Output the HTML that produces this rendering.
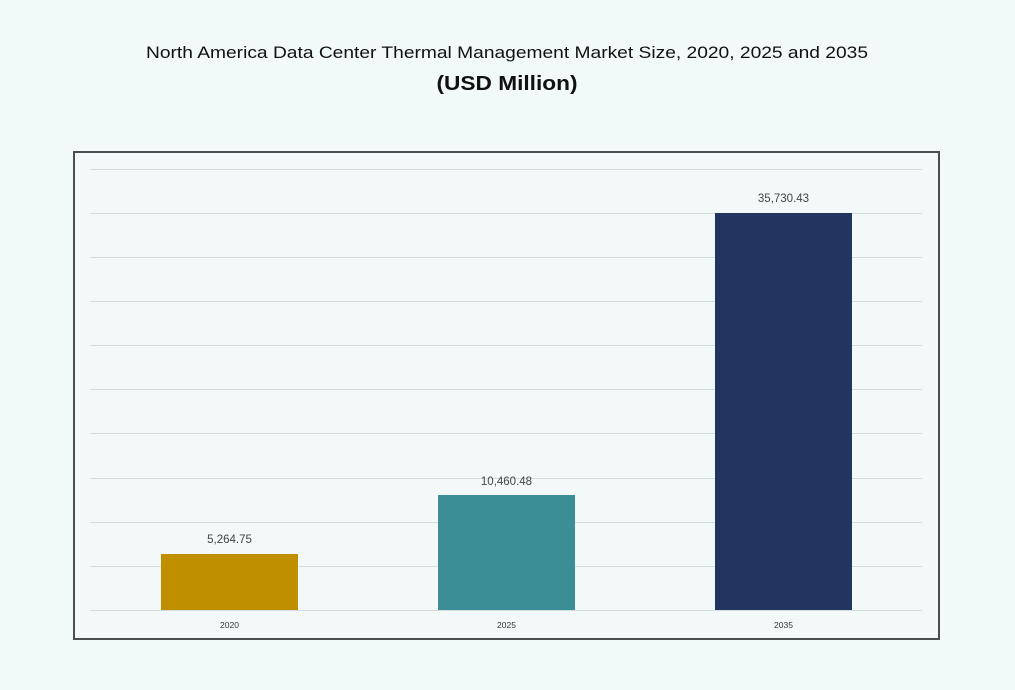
<!DOCTYPE html>
<html><head><meta charset="utf-8"><style>
html,body{margin:0;padding:0;background:#f2f9f9;}
svg{display:block;}
</style></head><body>
<svg width="1015" height="690" viewBox="0 0 1015 690" xmlns="http://www.w3.org/2000/svg" font-family="Liberation Sans, sans-serif">
<rect width="1015" height="690" fill="#f2f9f9"/>
<text x="507" y="58" text-anchor="middle" font-size="16.5" fill="#111" textLength="722" lengthAdjust="spacingAndGlyphs">North America Data Center Thermal Management Market Size, 2020, 2025 and 2035</text>
<text x="507" y="90" text-anchor="middle" font-size="20" font-weight="bold" fill="#111" textLength="141" lengthAdjust="spacingAndGlyphs">(USD Million)</text>
<rect x="74" y="152" width="865" height="487" fill="#f3f9f9" stroke="#4a4e50" stroke-width="2"/>
<g stroke="#d3dcdc" stroke-width="1">
<line x1="90" x2="922" y1="169.5" y2="169.5"/>
<line x1="90" x2="922" y1="213.5" y2="213.5"/>
<line x1="90" x2="922" y1="257.5" y2="257.5"/>
<line x1="90" x2="922" y1="301.5" y2="301.5"/>
<line x1="90" x2="922" y1="345.5" y2="345.5"/>
<line x1="90" x2="922" y1="389.5" y2="389.5"/>
<line x1="90" x2="922" y1="433.5" y2="433.5"/>
<line x1="90" x2="922" y1="478.5" y2="478.5"/>
<line x1="90" x2="922" y1="522.5" y2="522.5"/>
<line x1="90" x2="922" y1="566.5" y2="566.5"/>
<line x1="90" x2="922" y1="610.5" y2="610.5"/>
</g>
<rect x="161" y="554" width="137" height="56" fill="#c08f00"/>
<rect x="438" y="495" width="137" height="115" fill="#3b8e96"/>
<rect x="715" y="213" width="137" height="397" fill="#203660"/>
<g font-size="11.5" fill="#444" text-anchor="middle">
<text x="229.5" y="543">5,264.75</text>
<text x="506.5" y="485">10,460.48</text>
<text x="783.5" y="202">35,730.43</text>
</g>
<g font-size="8.5" fill="#333" text-anchor="middle">
<text x="229.5" y="628">2020</text>
<text x="506.5" y="628">2025</text>
<text x="783.5" y="628">2035</text>
</g>
</svg>
</body></html>
